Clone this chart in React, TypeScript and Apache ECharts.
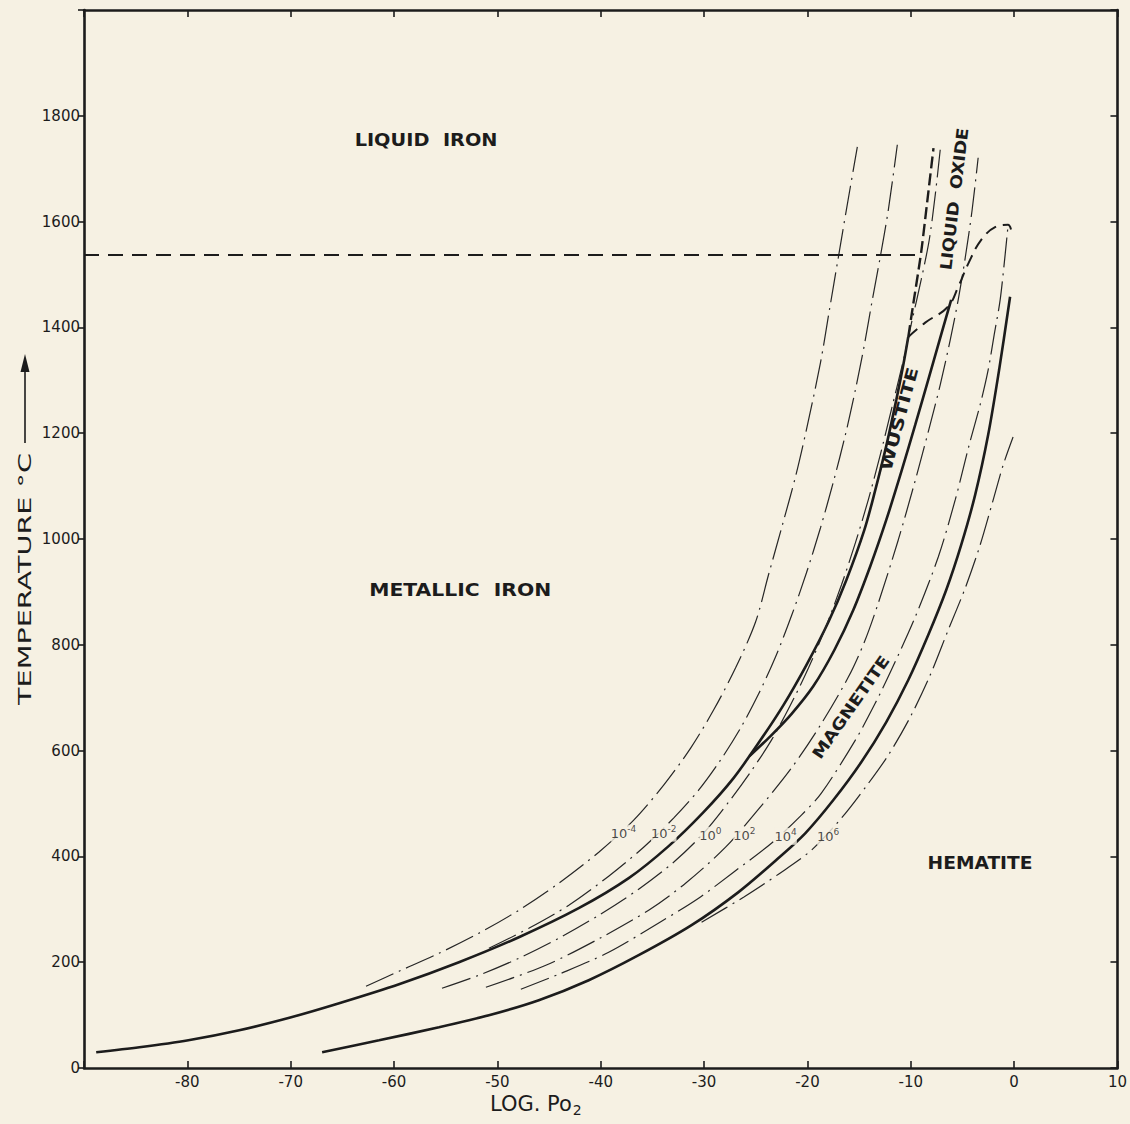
import React, { useEffect, useRef } from "react";
import * as echarts from "echarts";

// ---------- axes ----------
const xMin = -90;
const xMax = 10;
const xStep = 10;
const yMin = 0;
const yMax = 2000;
const yStep = 200;

// ---------- curves: [log pO2, temperature °C] ----------
// Fe / oxide boundary (Fe-Fe3O4 below ~570 °C, Fe-FeO above)
const ironOxideBoundary = [
  [-88.82, 29.7], [-84.64, 39.1], [-79.9, 52.4], [-74.98, 71.3], [-69.95, 95.9],
  [-65.31, 122.4], [-59.52, 158.3], [-53.72, 199.9], [-47.92, 247.2], [-42.13, 302.1],
  [-37.29, 358.9], [-33.43, 419.4], [-30.05, 483.7], [-27.15, 548.0], [-24.54, 619.9],
  [-22.32, 686.1], [-20.1, 761.8], [-17.97, 843.1], [-16.23, 922.6], [-14.49, 1017.2],
  [-13.43, 1092.8], [-12.37, 1176.0], [-11.4, 1263.0], [-10.72, 1329.2], [-10.24, 1382.2],
];
// FeO / Fe3O4 boundary
const wustiteMagnetite = [
  [-25.6, 589.7], [-23.57, 627.5], [-21.55, 669.1], [-19.42, 722.1], [-17.39, 790.2],
  [-15.56, 865.8], [-13.91, 949.0], [-12.37, 1036.0], [-10.92, 1126.8], [-9.57, 1215.7],
  [-8.31, 1300.8], [-7.15, 1380.2], [-6.09, 1452.2],
];
// Fe3O4 / Fe2O3 boundary
const magnetiteHematite = [
  [-66.96, 29.7], [-61.45, 52.4], [-55.65, 77.0], [-50.82, 99.7], [-45.99, 128.1],
  [-41.16, 165.9], [-36.33, 213.2], [-31.21, 270.0], [-26.67, 332.5], [-22.8, 396.8],
  [-20.19, 444.1], [-17.49, 506.5], [-14.78, 578.4], [-12.37, 654.0], [-10.24, 733.4],
  [-8.31, 818.5], [-6.57, 903.6], [-5.12, 988.8], [-3.77, 1083.4], [-2.51, 1196.9],
  [-1.45, 1319.8], [-0.39, 1457.9],
];
// CO2/CO ratio isobars
const isobarM4 = [
  [-62.71, 154.5], [-59.52, 182.9], [-55.65, 216.9], [-51.79, 254.8], [-47.92, 298.3],
  [-44.06, 349.3], [-40.19, 408.0], [-36.81, 468.5], [-33.91, 534.7], [-31.3, 604.7],
  [-29.08, 676.6], [-26.96, 756.0], [-25.02, 843.0], [-23.77, 931.9], [-22.42, 1026.5],
  [-21.16, 1117.3], [-20.1, 1206.2], [-18.74, 1332.9], [-17.87, 1433.1], [-17.0, 1533.4],
  [-16.23, 1622.3], [-15.17, 1741.4],
];
const isobarM2 = [
  [-50.82, 226.4], [-46.96, 264.2], [-43.09, 307.7], [-39.23, 362.6], [-35.85, 417.4],
  [-32.95, 472.3], [-30.53, 525.2], [-28.41, 582.0], [-26.47, 642.5], [-24.73, 706.8],
  [-23.09, 776.8], [-21.55, 854.3], [-20.1, 935.7], [-18.74, 1020.8], [-17.49, 1107.8],
  [-16.33, 1196.7], [-15.36, 1281.8], [-14.49, 1366.9], [-13.72, 1452.0], [-12.95, 1533.4],
  [-12.17, 1622.3], [-11.3, 1745.2],
];
const isobar0 = [
  [-55.36, 150.8], [-51.79, 175.4], [-47.92, 207.5], [-44.06, 245.3], [-40.19, 288.8],
  [-36.33, 338.0], [-32.95, 389.0], [-30.05, 443.9], [-27.63, 502.5], [-25.51, 559.3],
  [-23.48, 619.8], [-21.64, 686.1], [-19.9, 756.1], [-18.26, 831.8], [-16.71, 913.1],
  [-15.36, 992.6], [-14.11, 1074.0], [-12.95, 1159.1], [-11.88, 1244.2], [-10.82, 1329.3],
  [-9.86, 1414.4], [-8.99, 1490.1], [-8.21, 1565.7], [-7.63, 1650.8], [-7.15, 1735.9],
];
const isobarP2 = [
  [-51.11, 152.6], [-45.31, 194.2], [-39.9, 247.2], [-35.36, 298.3], [-31.79, 349.3],
  [-27.92, 417.4], [-24.73, 489.3], [-21.55, 566.8], [-18.74, 648.2], [-16.04, 739.0],
  [-14.49, 805.2], [-13.14, 879.0], [-11.21, 998.2], [-9.66, 1104.1], [-8.31, 1202.5],
  [-7.15, 1291.4], [-6.18, 1376.5], [-5.41, 1452.2], [-4.73, 1531.6], [-4.06, 1622.4],
  [-3.48, 1720.8],
];
const isobarP4 = [
  [-47.73, 148.9], [-44.06, 177.2], [-39.23, 218.8], [-34.11, 277.5], [-30.53, 321.0],
  [-27.15, 370.1], [-23.48, 425.0], [-20.58, 478.0], [-18.65, 519.6], [-15.36, 619.8],
  [-13.43, 689.8], [-11.88, 752.3], [-9.57, 852.5], [-7.34, 966.0], [-5.7, 1073.8],
  [-4.35, 1177.8], [-3.29, 1253.5], [-2.51, 1319.7], [-1.93, 1385.9], [-1.35, 1452.1],
  [-0.87, 1537.2], [-0.58, 1593.9],
];
const isobarP6 = [
  [-30.24, 275.6], [-26.18, 322.9], [-22.8, 366.4], [-19.61, 411.8], [-16.71, 472.3],
  [-14.3, 532.8], [-12.17, 591.5], [-10.05, 663.3], [-8.12, 742.7], [-6.38, 827.8],
  [-4.73, 907.3], [-3.29, 988.5], [-2.03, 1073.6], [-1.06, 1139.8], [-0.1, 1192.8],
];
// melting point of iron
const ironMelting = [[-90, 1537], [-9.0, 1537]];
// liquid iron / liquid oxide
const liquidIronOxide = [[-10.24, 1382], [-9.8, 1439], [-9.0, 1541], [-8.5, 1622], [-7.8, 1739]];
// solid oxide / liquid oxide
const liquidOxideBoundary = [
  [-10.24, 1382], [-8.6, 1409], [-6.4, 1439], [-5.4, 1477], [-4.4, 1522], [-3.2, 1565],
  [-1.8, 1590], [-0.6, 1594], [-0.3, 1585],
];

// ---------- annotations ----------
const regionLabels = [
  { text: "LIQUID  IRON", x: -56.9, y: 1755, rot: 0 },
  { text: "METALLIC  IRON", x: -53.6, y: 903, rot: 0 },
  { text: "HEMATITE", x: -3.3, y: 387, rot: 0 },
  { text: "WUSTITE", x: -11.1, y: 1227, rot: 75 },
  { text: "LIQUID  OXIDE", x: -5.8, y: 1643, rot: 83 },
  { text: "MAGNETITE", x: -15.8, y: 682, rot: 55 },
];
// drawn length (px) and size of each region label, same order
const regionLabelLook = [
  { len: 143, size: 17 },
  { len: 182, size: 17 },
  { len: 105, size: 17 },
  { len: 106, size: 16 },
  { len: 143, size: 16 },
  { len: 122, size: 16 },
];
const isobarExponents = ["-4", "-2", "0", "2", "4", "6"];
const isobarLabelAt = [
  [-37.8, 444], [-33.9, 444], [-29.4, 440], [-26.1, 440], [-22.1, 438], [-18.0, 438],
];

const BG = "#f6f1e3";
const INK = "#1c1c1c";
const FONT = "DejaVu Sans";

function textWidth(text: string, font: string) {
  const ctx = document.createElement("canvas").getContext("2d");
  if (!ctx) return text.length * 10;
  ctx.font = font;
  return ctx.measureText(text).width;
}

export default function App() {
  const ref = useRef<HTMLDivElement>(null);

  useEffect(() => {
    if (!ref.current) return;
    const chart = echarts.init(ref.current, undefined, { renderer: "svg" });

    const solid = { color: INK, width: 2.6 };
    const isobar = { color: "#262626", width: 1.2, type: [30, 6, 2, 6] as any };

    const line = (name: string, data: number[][], lineStyle: any, smooth: number | boolean = 0.3) => ({
      type: "line",
      name,
      data,
      showSymbol: false,
      symbol: "none",
      smooth,
      silent: true,
      lineStyle,
      z: 3,
    });

    const axisCommon = {
      type: "value",
      axisLine: { show: true, onZero: false, lineStyle: { color: INK, width: 2.6 } },
      splitLine: { show: false },
    };

    const option: any = {
      animation: false,
      backgroundColor: BG,
      grid: { left: 84, top: 10, width: 1034, height: 1058 },
      xAxis: [
        {
          ...axisCommon,
          min: xMin,
          max: xMax,
          interval: xStep,
          position: "bottom",
          axisTick: { show: true, inside: true, length: 7, lineStyle: { color: INK, width: 1.6 } },
          axisLabel: {
            color: INK,
            fontSize: 15,
            fontFamily: FONT,
            margin: 6,
            formatter: (v: number) => (v === xMin ? "" : String(v)),
          },
        },
        {
          ...axisCommon,
          min: xMin,
          max: xMax,
          interval: xStep,
          position: "top",
          axisTick: { show: true, inside: true, length: 7, lineStyle: { color: INK, width: 1.6 } },
          axisLabel: { show: false },
        },
      ],
      yAxis: [
        {
          ...axisCommon,
          min: yMin,
          max: yMax,
          interval: yStep,
          position: "left",
          axisTick: { show: true, inside: false, length: 6, lineStyle: { color: INK, width: 1.6 } },
          axisLabel: {
            color: INK,
            fontSize: 15,
            fontFamily: FONT,
            margin: 4,
            formatter: (v: number) => (v === yMax ? "" : String(v)),
          },
        },
        {
          ...axisCommon,
          min: yMin,
          max: yMax,
          interval: yStep,
          position: "right",
          axisTick: { show: true, inside: true, length: 7, lineStyle: { color: INK, width: 1.6 } },
          axisLabel: { show: false },
        },
      ],
      series: [
        line("Fe boundary", ironOxideBoundary, solid),
        line("FeO/Fe3O4", wustiteMagnetite, solid),
        line("Fe3O4/Fe2O3", magnetiteHematite, solid),
        line("1e-4", isobarM4, isobar),
        line("1e-2", isobarM2, isobar),
        line("1e0", isobar0, isobar),
        line("1e2", isobarP2, isobar),
        line("1e4", isobarP4, isobar),
        line("1e6", isobarP6, isobar),
        line("Fe melting", ironMelting, { color: INK, width: 2, type: [15, 9] }, 0),
        line("liquid Fe / liquid oxide", liquidIronOxide, { color: INK, width: 2.4, type: [12, 5] }, 0.2),
        line("liquid oxide", liquidOxideBoundary, { color: INK, width: 2, type: [12, 7] }, 0.4),
        {
          type: "scatter",
          name: "isobar labels",
          silent: true,
          z: 6,
          symbolSize: 1,
          itemStyle: { color: "rgba(0,0,0,0)" },
          data: isobarExponents.map((e, i) => ({
            value: isobarLabelAt[i],
            label: { formatter: `{a|10}{b|${e}}` },
          })),
          label: {
            show: true,
            position: "inside",
            color: INK,
            textBorderWidth: 0,
            backgroundColor: BG,
            padding: [0, 0],
            rich: {
              a: { fontSize: 13, fontFamily: FONT, color: INK, textBorderWidth: 0 },
              b: { fontSize: 9, fontFamily: FONT, color: INK, textBorderWidth: 0, padding: [0, 0, 8, 0] },
            },
          },
        },
      ],
    };

    chart.setOption(option);

    const toPx = (x: number, y: number) =>
      chart.convertToPixel({ xAxisIndex: 0, yAxisIndex: 0 } as any, [x, y]) as number[];

    const graphics: any[] = regionLabels.map((l, i) => {
      const look = regionLabelLook[i];
      const font = `bold ${look.size}px "${FONT}"`;
      const w = textWidth(l.text, font);
      const p = toPx(l.x, l.y);
      return {
        type: "text",
        x: p[0],
        y: p[1],
        rotation: (l.rot * Math.PI) / 180,
        scaleX: look.len / w,
        z: 10,
        style: {
          text: l.text,
          font,
          fill: INK,
          align: "center",
          verticalAlign: "middle",
          textAlign: "center",
          textVerticalAlign: "middle",
        },
      };
    });

    // y axis title with arrow
    const yTitle = "TEMPERATURE °C";
    const yFont = `17px "${FONT}"`;
    const yw = textWidth(yTitle, yFont);
    graphics.push({
      type: "text",
      x: 25,
      y: 579,
      rotation: Math.PI / 2,
      scaleX: 252 / yw,
      style: {
        text: yTitle,
        font: yFont,
        fill: INK,
        align: "center",
        verticalAlign: "middle",
        textAlign: "center",
        textVerticalAlign: "middle",
      },
    });
    graphics.push({
      type: "line",
      shape: { x1: 25, y1: 443, x2: 25, y2: 368 },
      style: { stroke: INK, lineWidth: 1.6 },
    });
    graphics.push({
      type: "polygon",
      shape: { points: [[20.5, 372], [29.5, 372], [25, 354]] },
      style: { fill: INK },
    });

    // x axis title
    graphics.push({
      type: "text",
      x: 490,
      y: 1104,
      style: {
        text: "{a|LOG. Po}{b|2}",
        align: "left",
        verticalAlign: "middle",
        textAlign: "left",
        textVerticalAlign: "middle",
        fill: INK,
        rich: {
          a: { fontSize: 21, fontFamily: FONT, fill: INK, color: INK },
          b: { fontSize: 14, fontFamily: FONT, fill: INK, color: INK, padding: [12, 0, 0, 1] },
        },
      },
    });

    chart.setOption({ graphic: graphics });

    return () => chart.dispose();
  }, []);

  return (
    <div
      ref={ref}
      style={{ position: "fixed", left: 0, top: 0, width: 1130, height: 1124, background: BG }}
    />
  );
}
